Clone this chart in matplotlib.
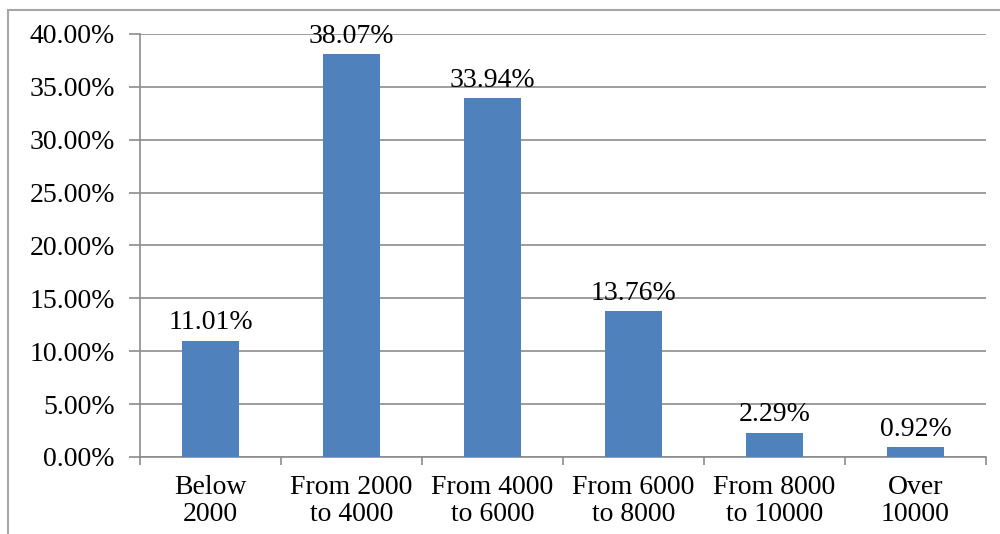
import matplotlib.pyplot as plt
from matplotlib.patches import Rectangle

categories = ['Below\n2000', 'From 2000\nto 4000', 'From 4000\nto 6000',
              'From 6000\nto 8000', 'From 8000\nto 10000', 'Over\n10000']
shares = [11.01, 38.07, 33.94, 13.76, 2.29, 0.92]
yticks = [0, 5, 10, 15, 20, 25, 30, 35, 40]

plt.rcParams['font.family'] = ['Liberation Serif', 'DejaVu Serif']
FS = 20

fig = plt.figure(figsize=(10, 5.34), dpi=100)
ax = fig.add_axes([0.140, 1 - 457 / 534, 0.846, (457 - 34) / 534])

# chart area frame (runs off the right and bottom edges)
fig.patches.append(Rectangle((8 / 1000, -0.05), 1.1, 1 - 10 / 534 + 0.05,
                             transform=fig.transFigure, fill=False,
                             edgecolor='#a6a6a6', linewidth=1.5))

x = range(len(categories))
ax.bar(x, shares, width=0.41, color='#4f81bd', zorder=3)
for xi, v in zip(x, shares):
    ax.annotate(f'{v:.2f}%', (xi, v), xytext=(0, 4), textcoords='offset points',
                ha='center', va='bottom', fontsize=FS)

ax.set_xlim(-0.5, len(categories) - 0.5)
ax.set_ylim(0, 40)
ax.set_yticks(yticks)
ax.set_yticklabels([f'{t:.2f}%' for t in yticks], fontsize=FS)
ax.yaxis.grid(True, color='#8c8c8c', linewidth=1.2, zorder=0)
ax.tick_params(axis='y', length=8, color='#8c8c8c', width=1.2, pad=10)

# category ticks sit between the bars
ax.set_xticks([i + 0.5 for i in range(-1, len(categories))], minor=False)
ax.set_xticklabels([])
ax.set_xticks(list(x), minor=True)
ax.set_xticklabels(categories, minor=True, fontsize=FS, linespacing=1.1)
ax.tick_params(axis='x', which='major', length=6, color='#8c8c8c', width=1.2)
ax.tick_params(axis='x', which='minor', length=0, pad=13)

for side in ['top', 'right']:
    ax.spines[side].set_visible(False)
for side in ['left', 'bottom']:
    ax.spines[side].set_color('#8c8c8c')
    ax.spines[side].set_linewidth(1.2)

fig.savefig('out.png', dpi=100)
